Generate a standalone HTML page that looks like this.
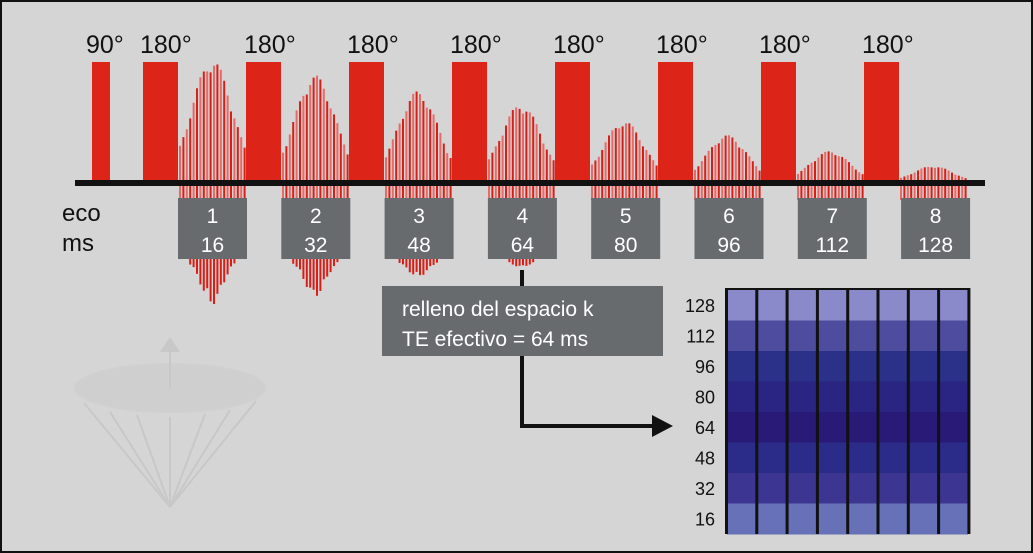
<!DOCTYPE html>
<html><head><meta charset="utf-8"><style>
html,body{margin:0;padding:0;background:#d5d5d5}
svg{display:block}
text{font-family:"Liberation Sans",sans-serif}
</style></head><body>
<svg id="s" width="1033" height="553" viewBox="0 0 1033 553" xmlns="http://www.w3.org/2000/svg">
<rect x="1" y="1" width="1031" height="551" fill="#d5d5d5" stroke="#111" stroke-width="2"/>
<g stroke="#c8c8c8" stroke-width="2" fill="none">
<ellipse cx="170" cy="388" rx="95" ry="24" fill="#cfcfcf" stroke="#d0d0d0"/>
<line x1="170" y1="507" x2="84" y2="403"/><line x1="170" y1="507" x2="110" y2="412"/>
<line x1="170" y1="507" x2="137" y2="415"/><line x1="170" y1="507" x2="170" y2="417"/>
<line x1="170" y1="507" x2="205" y2="414"/><line x1="170" y1="507" x2="230" y2="410"/>
<line x1="170" y1="507" x2="256" y2="401"/><line x1="170" y1="388" x2="170" y2="350"/>
</g>
<polygon points="160,352 170,337 180,352" fill="#c8c8c8"/>
<g id="echo"></g>
<g fill="#dd2418">
<rect x="92" y="62" width="18" height="121"/>
<rect x="143" y="62" width="35" height="121"/><rect x="246" y="62" width="35" height="121"/>
<rect x="349" y="62" width="35" height="121"/><rect x="452" y="62" width="35" height="121"/>
<rect x="555" y="62" width="35" height="121"/><rect x="658" y="62" width="35" height="121"/>
<rect x="761" y="62" width="35" height="121"/><rect x="864" y="62" width="35" height="121"/>
</g>
<g font-size="25" fill="#111">
<text x="86" y="53">90°</text><text x="140" y="53">180°</text><text x="244" y="53">180°</text>
<text x="347" y="53">180°</text><text x="450" y="53">180°</text><text x="553" y="53">180°</text>
<text x="656" y="53">180°</text><text x="759" y="53">180°</text><text x="862" y="53">180°</text>
</g>
<rect x="75" y="180" width="910" height="6" fill="#111"/>
<g id="boxes"></g>
<g font-size="24" fill="#111"><text x="62" y="221">eco</text><text x="62" y="251">ms</text></g>
<line x1="522" y1="270" x2="522" y2="426" stroke="#111" stroke-width="4"/>
<line x1="520" y1="426" x2="655" y2="426" stroke="#111" stroke-width="4"/>
<polygon points="652,415 673,426 652,437" fill="#111"/>
<rect x="382" y="286" width="281" height="70" fill="#676b6e"/>
<g font-size="21" fill="#fff"><text x="402" y="316">relleno del espacio k</text><text x="402" y="346">TE efectivo = 64 ms</text></g>
<g id="grid"></g>
</svg>
<script>
(function(){
var NS="http://www.w3.org/2000/svg";
function el(p,t,a,txt){var e=document.createElementNS(NS,t);for(var k in a)e.setAttribute(k,a[k]);if(txt)e.textContent=txt;p.appendChild(e);return e;}
var echo=document.getElementById('echo');
var amps=[124,108,92,79,62,48,32,17];var below=[46,38,18,8,0,0,0,0];
for(var i=0;i<8;i++){var x0=178+i*103,w=68,c=x0+w/2;
 for(var x=x0+2;x<x0+w;x+=3.4){var d=(x-c)/(w/2.6);var g=Math.exp(-d*d*0.8);var h=amps[i]*g*(0.88+0.12*Math.abs(Math.sin(x*1.7)));
  var k=Math.round((x-x0)/3.4);var col=k%2?"#e86a66":"#d81e16";
  el(echo,'line',{x1:x,y1:183-h,x2:x,y2:200,stroke:col,'stroke-width':2});
  var b=below[i]*Math.exp(-d*d*3);if(b>3)el(echo,'line',{x1:x,y1:259,x2:x,y2:259+b*(0.7+0.3*Math.abs(Math.cos(x*2.1))),stroke:"#d81e16",'stroke-width':2});
 }}
var bx=document.getElementById('boxes');
for(var i=0;i<8;i++){var x0=178+i*103.3;el(bx,'rect',{x:x0,y:198,width:69,height:61,fill:'#676b6e'});
 el(bx,'text',{x:x0+34.5,y:223,'font-size':21,fill:'#fff','text-anchor':'middle'},String(i+1));
 el(bx,'text',{x:x0+34.5,y:252,'font-size':21,fill:'#fff','text-anchor':'middle'},String((i+1)*16));}
var gr=document.getElementById('grid');
var cols=["#8a8acb","#4d4c9e","#2b3089","#2a2482","#2a1a78","#2b2c89","#3c3692","#6771b8"];
var labels=[128,112,96,80,64,48,32,16];
var gt=288,rh=30.5;
el(gr,'rect',{x:725,y:gt,width:245,height:246,fill:'#111'});
for(var r=0;r<8;r++){el(gr,'rect',{x:727,y:gt+2+r*rh,width:241,height:rh+0.5,fill:cols[r]});
 el(gr,'text',{x:715,y:gt+r*rh+24,'font-size':18,fill:'#111','text-anchor':'end'},String(labels[r]));}
for(var c=0;c<=8;c++){el(gr,'rect',{x:725+c*30.3,y:gt,width:3,height:246,fill:'#111'});}
})();
</script>
</body></html>
